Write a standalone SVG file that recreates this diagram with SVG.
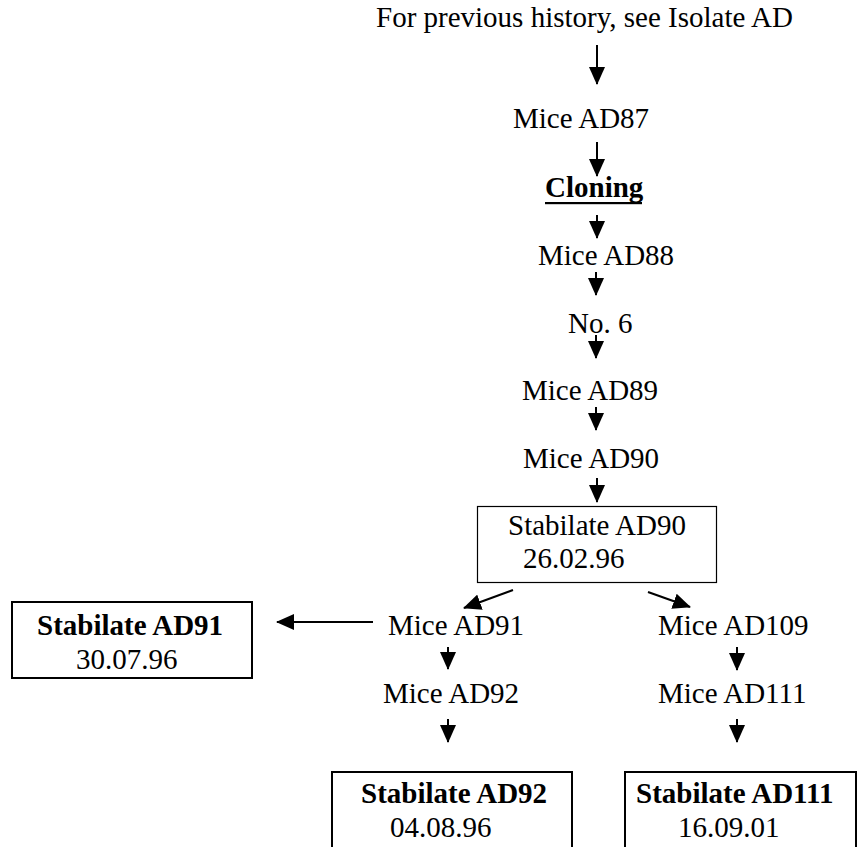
<svg xmlns="http://www.w3.org/2000/svg" width="859" height="847" viewBox="0 0 859 847">
<defs>
<style>
text{font-family:"Liberation Serif","Times New Roman",serif;font-size:29px;fill:#000}
.b{font-weight:bold}
.box{fill:none;stroke:#000;stroke-width:1.2}
.box2{fill:none;stroke:#000;stroke-width:2}
.arr{stroke:#000;stroke-width:2;fill:none;marker-end:url(#ah)}
</style>
<marker id="ah" markerUnits="userSpaceOnUse" markerWidth="18" markerHeight="16" refX="17" refY="8" orient="auto">
<path d="M0,0 L18,8 L0,16 z" fill="#000"/>
</marker>
</defs>
<rect width="859" height="847" fill="#fff"/>
<g id="connectors">
<line class="arr" x1="597" y1="45" x2="597" y2="84"/>
<line class="arr" x1="597" y1="142" x2="597" y2="176"/>
<line class="arr" x1="597" y1="215" x2="597" y2="238"/>
<line class="arr" x1="596" y1="272" x2="596" y2="295"/>
<line class="arr" x1="596" y1="335" x2="596" y2="358"/>
<line class="arr" x1="596" y1="407" x2="596" y2="430"/>
<line class="arr" x1="597" y1="478" x2="597" y2="502"/>
<line class="arr" x1="513" y1="590" x2="464" y2="608"/>
<line class="arr" x1="648" y1="592" x2="690" y2="607"/>
<line class="arr" x1="373" y1="622" x2="277" y2="622"/>
<line class="arr" x1="448" y1="647" x2="448" y2="669"/>
<line class="arr" x1="737" y1="647" x2="737" y2="670"/>
<line class="arr" x1="448" y1="719" x2="448" y2="742"/>
<line class="arr" x1="737" y1="719" x2="737" y2="742"/>
</g>
<g id="n-history"><text x="376" y="27">For previous history, see Isolate AD</text></g>
<g id="n-ad87"><text x="513" y="128">Mice AD87</text></g>
<g id="n-cloning"><text class="b" x="545" y="197">Cloning</text><rect x="545" y="202" width="97" height="2.2" fill="#000"/></g>
<g id="n-ad88"><text x="538" y="265">Mice AD88</text></g>
<g id="n-no6"><text x="568" y="333">No. 6</text></g>
<g id="n-ad89"><text x="522" y="400">Mice AD89</text></g>
<g id="n-ad90"><text x="523" y="468">Mice AD90</text></g>
<g id="n-stab90"><rect class="box" x="477.5" y="506.5" width="239" height="76"/><text x="508" y="535">Stabilate AD90</text><text x="523" y="568">26.02.96</text></g>
<g id="n-stab91"><rect class="box2" x="12" y="602" width="240" height="76"/><text class="b" x="37" y="635">Stabilate AD91</text><text x="76" y="669">30.07.96</text></g>
<g id="n-ad91"><text x="388" y="635">Mice AD91</text></g>
<g id="n-ad109"><text x="658" y="635">Mice AD109</text></g>
<g id="n-ad92"><text x="383" y="703">Mice AD92</text></g>
<g id="n-ad111"><text x="658" y="703">Mice AD111</text></g>
<g id="n-stab92"><rect class="box2" x="332" y="772" width="240" height="90"/><text class="b" x="361" y="803">Stabilate AD92</text><text x="390" y="837">04.08.96</text></g>
<g id="n-stab111"><rect class="box2" x="625" y="772" width="231" height="90"/><text class="b" x="636" y="803">Stabilate AD111</text><text x="678" y="837">16.09.01</text></g>
</svg>
